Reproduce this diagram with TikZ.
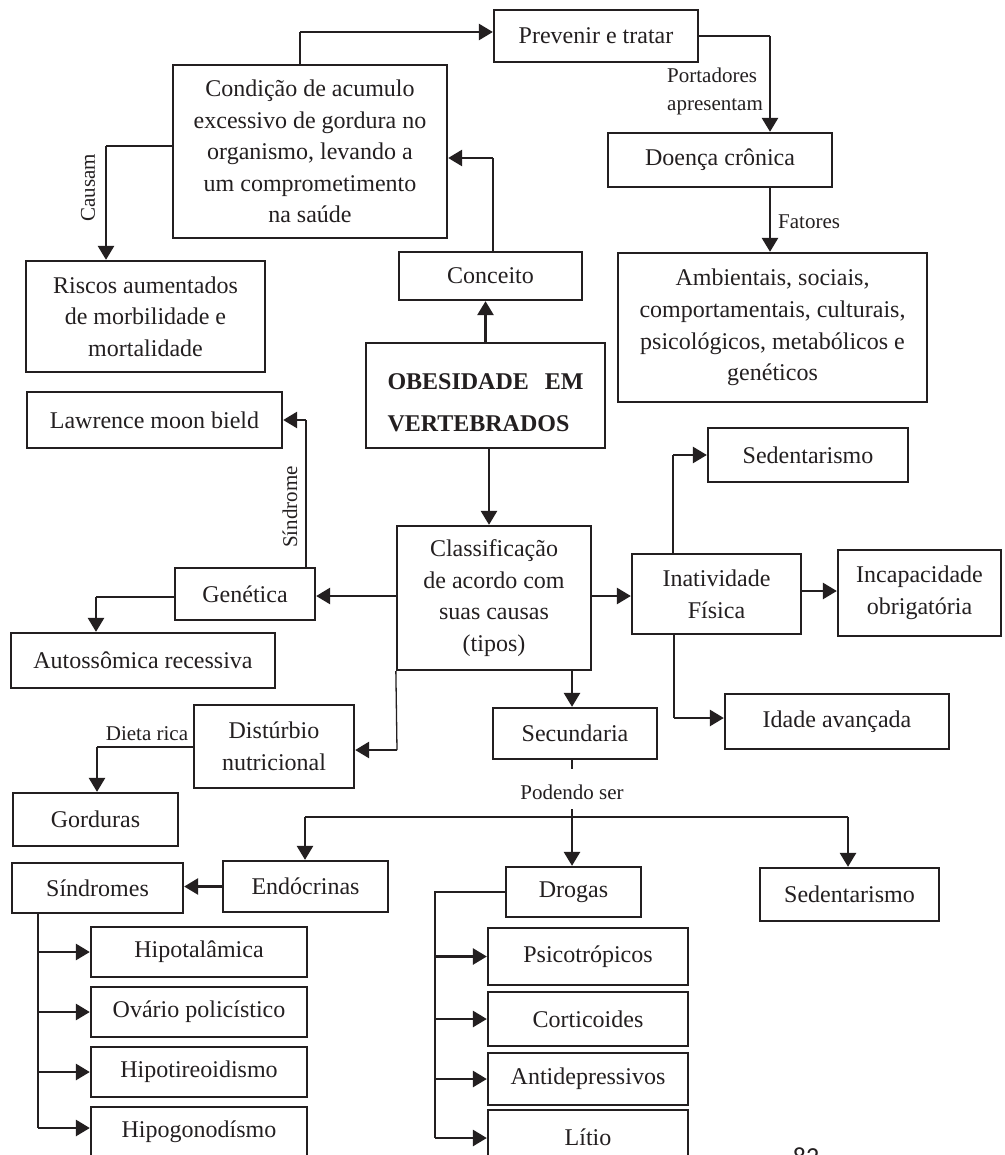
\documentclass[tikz,border=0pt]{standalone}
\usepackage{fontspec}
\setmainfont{Liberation Serif}
\newfontfamily\pagefont{Carlito}
\usetikzlibrary{arrows.meta}
\definecolor{ink}{HTML}{231F20}
\newcommand\mainf{\fontsize{24}{31.6}\selectfont}
\newcommand\labf{\fontsize{21}{28}\selectfont}
\newcommand\bx[6]{\node[box,minimum width={(#4-#2)*1pt},minimum height={(#5-#3)*1pt}] (#1) at ({(#2+#4)/2},{(#3+#5)/2}) {#6};}
\begin{document}
\begin{tikzpicture}[x=1pt,y=-1pt,
  box/.style={draw=ink, line width=2.3pt, inner sep=0pt, align=center, font=\mainf, text=ink},
  thn/.style={line width=1.3pt, draw=ink},
  thkl/.style={line width=2.7pt, draw=ink},
  thk/.style={line width=2.7pt, draw=ink, -{Triangle[length=14pt,width=16pt]}},
  lab/.style={font=\labf, inner sep=0pt, text=ink}]
\useasboundingbox (0,0) rectangle (1004,1155);
\clip (0,0) rectangle (1004,1155);
\fill[white] (0,0) rectangle (1004,1155);

% boxes
\bx{prev}{494}{10}{698}{62}{Prevenir e tratar}
\bx{cond}{173}{65}{447}{238}{Condição de acumulo\\excessivo de gordura no\\organismo, levando a\\um comprometimento\\na saúde}
\bx{risc}{26}{261}{265}{372}{Riscos aumentados\\de morbilidade e\\mortalidade}
\bx{conc}{399}{252}{582}{300}{Conceito}
\bx{doen}{608}{133}{832}{187}{Doença crônica}
\bx{amb}{618}{253}{927}{402}{Ambientais, sociais,\\comportamentais, culturais,\\psicológicos, metabólicos e\\genéticos}
\node[box, font=\bfseries\fontsize{24}{41.7}\selectfont, minimum width=239pt, minimum height=105pt] (obes) at (485.5,395.5) {\rule{0pt}{31pt}\makebox[196pt][s]{OBESIDADE EM}\\\makebox[196pt][l]{VERTEBRADOS}};
\bx{law}{27}{392}{282}{448}{Lawrence moon bield}
\bx{sedA}{708}{428}{908}{482}{Sedentarismo}
\bx{gen}{175}{568}{315}{620}{Genética}
\bx{clas}{397}{526}{591}{670}{Classificação\\de acordo com\\suas causas\\(tipos)}
\bx{inat}{632}{554}{801}{634}{Inatividade\\Física}
\bx{inc}{838}{550}{1001}{636}{Incapacidade\\obrigatória}
\bx{aut}{11}{633}{275}{688}{Autossômica recessiva}
\bx{idade}{725}{694}{949}{749}{Idade avançada}
\bx{dist}{194}{705}{354}{788}{Distúrbio\\nutricional}
\bx{sec}{493}{708}{657}{759}{Secundaria}
\bx{gord}{13}{793}{178}{846}{Gorduras}
\bx{endo}{223}{861}{388}{912}{Endócrinas}
\bx{sind}{12}{863}{183}{913}{Síndromes}
\bx{drog}{506}{867}{641}{917}{Drogas}
\bx{sedB}{760}{868}{939}{921}{Sedentarismo}
\bx{hipot}{91}{927}{307}{977}{Hipotalâmica}
\bx{ovar}{91}{987}{307}{1037}{Ovário policístico}
\bx{hipoti}{91}{1047}{307}{1097}{Hipotireoidismo}
\bx{hipog}{91}{1107}{307}{1157}{Hipogonodísmo}
\bx{psico}{488}{928}{688}{985}{Psicotrópicos}
\bx{cort}{488}{992}{688}{1046}{Corticoides}
\bx{anti}{488}{1053}{688}{1105}{Antidepressivos}
\bx{litio}{488}{1110}{688}{1165}{Lítio}

% labels
\node[lab, align=left, anchor=west] (port) at (667,91) {Portadores\\apresentam};
\node[lab, anchor=west] (fat) at (778,222) {Fatores};
\node[lab, rotate=90] (causam) at (88,188) {Causam};
\node[lab, rotate=90] (sindl) at (290,507) {Síndrome};
\node[lab] (dieta) at (147,734) {Dieta rica};
\node[lab] (pod) at (572,792) {Podendo ser};
\node[font=\pagefont\fontsize{26}{30}\selectfont, text=ink, anchor=base, inner sep=0pt] (pg) at (806,1165) {82};

% bend coordinates
\coordinate (b1) at (300,32);
\coordinate (b2) at (770,36);
\coordinate (b4) at (493,158);
\coordinate (b5) at (106,146);
\coordinate (b6) at (489,0);
\coordinate (b7) at (306,420);
\coordinate (b8) at (0,596);
\coordinate (b9) at (96,597);
\coordinate (b10) at (397,750);
\coordinate (b11) at (97,747);
\coordinate (b12) at (673,455);
\coordinate (b13) at (0,591);
\coordinate (b14) at (674,718);
\coordinate (b15) at (572,0);
\coordinate (b16) at (572,769);
\coordinate (b17) at (572,809);
\coordinate (b18) at (305,817);
\coordinate (b19) at (848,817);
\coordinate (b20) at (38,1128);
\coordinate (b21) at (435,1138);

% connectors
\draw[thn] (cond.north -| b1) -- (b1);
\draw[thk] (b1) -- (b1 -| prev.west);

\draw[thn] (prev.east) -- (b2);
\draw[thk] (b2) -- (b2 |- doen.north);
\draw[thk] (doen.south -| b2) -- (amb.north -| b2);

\draw[thn] (conc.north -| b4) -- (b4);
\draw[thk] (b4) -- (b4 -| cond.east);

\draw[thk] (obes.north) -- (obes.north |- conc.south);

\draw[thn] (cond.west |- b5) -- (b5);
\draw[thk] (b5) -- (b5 |- risc.north);

\draw[thk] (obes.south -| b6) -- (clas.north -| b6);

\draw[thn] (gen.north -| b7) -- (b7);
\draw[thk] (b7) -- (b7 -| law.east);

\draw[thk] (clas.west |- b8) -- (gen.east |- b8);

\draw[thn] (gen.west |- b9) -- (b9);
\draw[thk] (b9) -- (b9 |- aut.north);

\draw[thn] (clas.south west) -- (b10);
\draw[thk] (b10) -- (b10 -| dist.east);

\draw[thn] (dist.west |- b11) -- (b11);
\draw[thk] (b11) -- (b11 |- gord.north);

\draw[thk] (clas.east |- b8) -- (inat.west |- b8);

\draw[thn] (inat.north -| b12) -- (b12);
\draw[thk] (b12) -- (b12 -| sedA.west);

\draw[thk] (inat.east |- b13) -- (inc.west |- b13);

\draw[thn] (inat.south -| b14) -- (b14);
\draw[thk] (b14) -- (b14 -| idade.west);

\draw[thk] (clas.south -| b15) -- (sec.north -| b15);

\draw[thkl] (sec.south -| b15) -- (b16);
\draw[thk] (b17) -- (b17 |- drog.north);
\draw[thn] (b18) -- (b19);
\draw[thk] (b18) -- (b18 |- endo.north);
\draw[thk] (b19) -- (b19 |- sedB.north);

\draw[thk] (endo.west) -- (endo.west -| sind.east);

\draw[thn] (sind.south -| b20) -- (b20);
\draw[thk] (hipot.west -| b20) -- (hipot.west);
\draw[thk] (ovar.west -| b20) -- (ovar.west);
\draw[thk] (hipoti.west -| b20) -- (hipoti.west);
\draw[thk] (b20) -- (b20 -| hipog.west);

\draw[thn] (drog.west) -- (drog.west -| b21) -- (b21);
\draw[thk] (psico.west -| b21) -- (psico.west);
\draw[thk] (cort.west -| b21) -- (cort.west);
\draw[thk] (anti.west -| b21) -- (anti.west);
\draw[thk] (b21) -- (b21 -| litio.west);
\end{tikzpicture}
\end{document}
